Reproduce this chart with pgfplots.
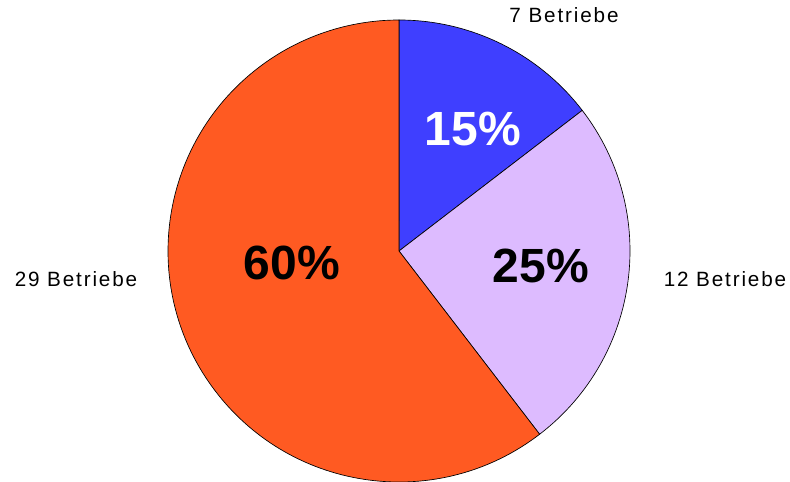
\documentclass[border=0pt]{standalone}
\usepackage{pgfplots}
\pgfplotsset{compat=1.18}
\usepackage{pgfplotstable}
\usepackage{fontspec}
\setmainfont{Liberation Sans}
\newfontfamily\spaced[LetterSpace=9]{Liberation Sans}
\definecolor{cblue}{HTML}{3F3FFF}
\definecolor{clav}{HTML}{DDBBFF}
\definecolor{corange}{HTML}{FF5A22}
\pgfplotstableread{
n
7
12
29
}\piedata
\begin{document}
\begin{tikzpicture}
\pgfplotstablegetelem{0}{n}\of\piedata \pgfmathsetmacro{\na}{\pgfplotsretval}
\pgfplotstablegetelem{1}{n}\of\piedata \pgfmathsetmacro{\nb}{\pgfplotsretval}
\pgfplotstablegetelem{2}{n}\of\piedata \pgfmathsetmacro{\nc}{\pgfplotsretval}
\pgfmathsetmacro{\tot}{\na+\nb+\nc}
\pgfmathsetmacro{\aa}{90}
\pgfmathsetmacro{\ab}{\aa-\na/\tot*360}
\pgfmathsetmacro{\ac}{\ab-\nb/\tot*360}
\pgfmathsetmacro{\ad}{\ac-\nc/\tot*360}
\def\R{173.25pt}
\begin{axis}[name=ax, x=0.75pt, y=0.75pt, xmin=0, xmax=790, ymin=0, ymax=482,
  scale only axis, hide axis, clip=false]
\filldraw[fill=cblue, draw=black, line width=0.5pt] (axis cs:399,231) -- ++(\aa:\R) arc[start angle=\aa, end angle=\ab, radius=\R] -- cycle;
\filldraw[fill=clav, draw=black, line width=0.5pt] (axis cs:399,231) -- ++(\ab:\R) arc[start angle=\ab, end angle=\ac, radius=\R] -- cycle;
\filldraw[fill=corange, draw=black, line width=0.5pt] (axis cs:399,231) -- ++(\ac:\R) arc[start angle=\ac, end angle=\ad, radius=\R] -- cycle;
\node[anchor=base, font=\bfseries\fontsize{36}{40}\selectfont, text=white, inner sep=0pt] at (axis cs:473,336) {15\%};
\node[anchor=base, font=\bfseries\fontsize{36}{40}\selectfont, text=black, inner sep=0pt] at (axis cs:541,199) {25\%};
\node[anchor=base, font=\bfseries\fontsize{36}{40}\selectfont, text=black, inner sep=0pt] at (axis cs:292,202) {60\%};
\node[anchor=base, font=\spaced\fontsize{15.5}{18}\selectfont, inner sep=0pt] at (axis cs:564,459) {7 Betriebe};
\node[anchor=base, font=\spaced\fontsize{15.5}{18}\selectfont, inner sep=0pt] at (axis cs:725,195) {12 Betriebe};
\node[anchor=base, font=\spaced\fontsize{15.5}{18}\selectfont, inner sep=0pt] at (axis cs:76,195) {29 Betriebe};
\end{axis}
\pgfresetboundingbox
\path[use as bounding box] (ax.south west) rectangle (ax.north east);
\end{tikzpicture}
\end{document}
